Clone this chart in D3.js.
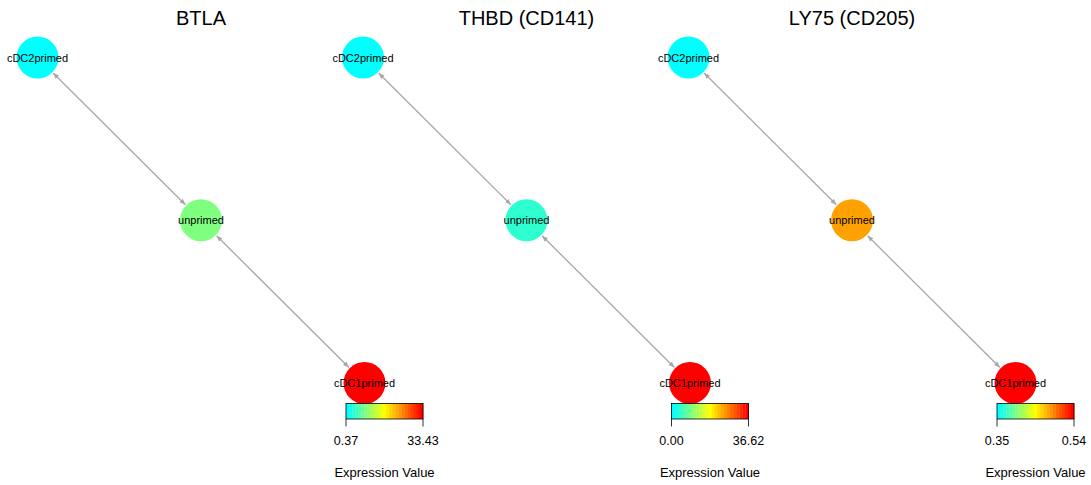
<!DOCTYPE html>
<html>
<head>
<meta charset="utf-8">
<script src="https://cdn.jsdelivr.net/npm/d3@7"></script>
<style>
  html, body { margin: 0; padding: 0; background: #fff; }
  svg { display: block; font-family: "Liberation Sans", Arial, sans-serif; }
</style>
</head>
<body>
<svg id="chart" width="1091" height="485"></svg>
<script>
// Genes shown, one network panel each
const genes = ["BTLA", "THBD (CD141)", "LY75 (CD205)"];

// Cell states (network nodes) and their layout coordinates
const nodeNames = ["cDC2primed", "unprimed", "cDC1primed"];
const layoutX = [-1, 0, 1];
const layoutY = [1, 0, -1];

// Edges between states (bidirectional)
const edgeFrom = ["cDC2primed", "unprimed"];
const edgeTo   = ["unprimed", "cDC1primed"];

// Expression per gene, in node order
const btlaValues = [0.37, 8.6, 33.43];
const thbdValues = [0.00, 3.3, 36.62];
const ly75Values = [0.35, 0.48, 0.54];
const geneValues = [btlaValues, thbdValues, ly75Values];

// Legend tick labels per gene
const legendMin = ["0.37", "0.00", "0.35"];
const legendMax = ["33.43", "36.62", "0.54"];

// Colour ramp for expression
const rampColors = ["#00FFFF", "#FFFF00", "#FF0000"];
const rampSteps = 25;

const svg = d3.select("#chart");
const panelWidth = 325.5;
const nodeR = 21;

const ramp = d3.piecewise(d3.interpolateRgb, rampColors);

const x = d3.scaleLinear().domain([-1, 1]).range([37.5, 364.5]);
const y = d3.scaleLinear().domain([1, -1]).range([57.5, 383]);

// Arrow markers for both edge ends
const defs = svg.append("defs");
["end", "start"].forEach(kind => {
  defs.append("marker")
    .attr("id", "arrow-" + kind)
    .attr("viewBox", "0 0 10 10")
    .attr("refX", kind === "end" ? 10 : 0)
    .attr("refY", 5)
    .attr("markerWidth", 6)
    .attr("markerHeight", 6)
    .attr("markerUnits", "userSpaceOnUse")
    .attr("orient", "auto")
    .append("path")
    .attr("d", kind === "end" ? "M0,1 L10,5 L0,9 Z" : "M10,1 L0,5 L10,9 Z")
    .attr("fill", "#A8A8A8");
});

genes.forEach((gene, gi) => {
  const g = svg.append("g").attr("transform", `translate(${gi * panelWidth},0)`);
  const vals = geneValues[gi];
  const vmin = d3.min(vals), vmax = d3.max(vals);
  const colorScale = d3.scaleLinear().domain([vmin, vmax]).range([0, 1]).clamp(true);

  const nodes = nodeNames.map((name, i) => ({
    name, px: x(layoutX[i]), py: y(layoutY[i]), value: vals[i]
  }));
  const byName = Object.fromEntries(nodes.map(n => [n.name, n]));

  // Title centred over the middle node
  g.append("text")
    .attr("x", x(0))
    .attr("y", 25)
    .attr("text-anchor", "middle")
    .attr("font-size", 20)
    .attr("fill", "#000")
    .text(gene);

  // Edges, trimmed to node boundaries
  edgeFrom.forEach((f, ei) => {
    const a = byName[f], b = byName[edgeTo[ei]];
    const dx = b.px - a.px, dy = b.py - a.py;
    const len = Math.hypot(dx, dy);
    const ux = dx / len, uy = dy / len;
    const gap = nodeR + 1;
    g.append("line")
      .attr("x1", a.px + ux * gap).attr("y1", a.py + uy * gap)
      .attr("x2", b.px - ux * gap).attr("y2", b.py - uy * gap)
      .attr("stroke", "#A8A8A8")
      .attr("stroke-width", 1.3)
      .attr("marker-start", "url(#arrow-start)")
      .attr("marker-end", "url(#arrow-end)");
  });

  // Nodes
  g.selectAll("circle.node").data(nodes).join("circle")
    .attr("class", "node")
    .attr("cx", d => d.px)
    .attr("cy", d => d.py)
    .attr("r", nodeR)
    .attr("fill", d => ramp(colorScale(d.value)));

  g.selectAll("text.node-label").data(nodes).join("text")
    .attr("class", "node-label")
    .attr("x", d => d.px)
    .attr("y", d => d.py + 4)
    .attr("text-anchor", "middle")
    .attr("font-size", 11)
    .attr("fill", "#000")
    .text(d => d.name);

  // Colour legend
  const lx = d3.scaleLinear().domain([0, rampSteps]).range([346, 423]);
  const legTop = 403.5, legH = 15.5;
  const steps = d3.range(rampSteps);
  g.selectAll("rect.step").data(steps).join("rect")
    .attr("class", "step")
    .attr("x", d => lx(d))
    .attr("y", legTop)
    .attr("width", lx(1) - lx(0) + 0.3)
    .attr("height", legH)
    .attr("fill", d => ramp(d / (rampSteps - 1)));
  g.append("rect")
    .attr("x", lx(0)).attr("y", legTop)
    .attr("width", lx(rampSteps) - lx(0)).attr("height", legH)
    .attr("fill", "none").attr("stroke", "#000").attr("stroke-width", 0.8);

  const axisScale = d3.scaleLinear().domain([vmin, vmax]).range([lx(0), lx(rampSteps)]);
  const ticks = [vmin, vmax];
  const tickText = [legendMin[gi], legendMax[gi]];
  ticks.forEach((t, ti) => {
    g.append("line")
      .attr("x1", axisScale(t)).attr("x2", axisScale(t))
      .attr("y1", legTop + legH).attr("y2", legTop + legH + 7.5)
      .attr("stroke", "#000").attr("stroke-width", 0.8);
    g.append("text")
      .attr("x", axisScale(t))
      .attr("y", 445)
      .attr("text-anchor", "middle")
      .attr("font-size", 12.5)
      .attr("fill", "#000")
      .text(tickText[ti]);
  });

  g.append("text")
    .attr("x", (lx(0) + lx(rampSteps)) / 2)
    .attr("y", 477)
    .attr("text-anchor", "middle")
    .attr("font-size", 13)
    .attr("fill", "#000")
    .text("Expression Value");
});
</script>
</body>
</html>
